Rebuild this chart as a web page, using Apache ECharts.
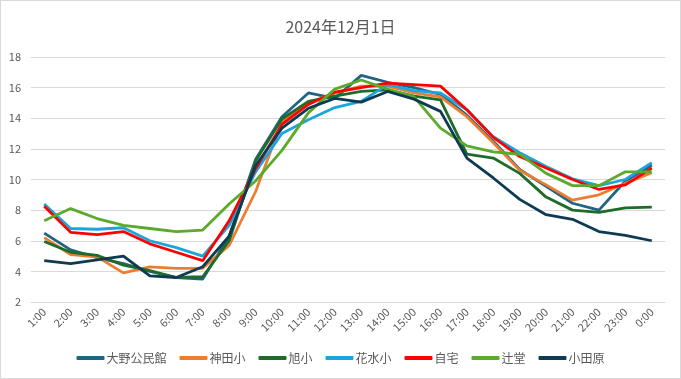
<!DOCTYPE html>
<html><head><meta charset="utf-8">
<script src="https://cdn.jsdelivr.net/npm/echarts@6/dist/echarts.min.js"></script>
<style>html,body{margin:0;padding:0;background:#fff}#c{width:679px;height:377px;border:1px solid #d9d9d9}</style>
</head><body><div id="c"></div>
<script>
const categories = ['1:00','2:00','3:00','4:00','5:00','6:00','7:00','8:00','9:00','10:00','11:00','12:00','13:00','14:00','15:00','16:00','17:00','18:00','19:00','20:00','21:00','22:00','23:00','0:00'];
const seriesNames = ['大野公民館','神田小','旭小','花水小','自宅','辻堂','小田原'];
const ohno     = [6.5,5.4,4.9,4.5,4.0,3.6,3.5,6.3,11.3,14.1,15.65,15.3,16.8,16.35,16.0,15.55,14.2,12.5,10.65,9.55,8.45,8.0,9.9,10.95];
const kanda    = [6.2,5.1,4.95,3.9,4.3,4.2,4.2,5.7,9.2,13.8,15.0,15.65,16.1,16.1,15.65,15.4,14.1,12.4,10.6,9.65,8.65,9.0,9.75,10.45];
const asahi    = [5.95,5.25,5.05,4.4,4.05,3.6,3.65,6.0,11.2,13.95,15.1,15.45,15.75,15.85,15.45,15.2,11.65,11.4,10.4,8.85,8.0,7.85,8.15,8.2];
const hanamizu = [8.4,6.8,6.75,6.85,6.0,5.55,5.0,7.0,10.5,13.0,13.9,14.7,15.1,16.2,15.8,15.65,14.55,12.8,11.75,10.85,10.05,9.6,10.0,11.1];
const jitaku   = [8.25,6.55,6.4,6.6,5.8,5.25,4.7,7.3,10.7,13.6,14.9,15.7,16.0,16.3,16.2,16.1,14.55,12.75,11.5,10.75,10.0,9.35,9.65,10.75];
const tsujido  = [7.3,8.1,7.45,7.0,6.8,6.6,6.7,8.4,9.9,11.9,14.35,15.9,16.5,15.9,15.4,13.35,12.2,11.8,11.65,10.4,9.6,9.6,10.5,10.5];
const odawara  = [4.7,4.5,4.75,5.0,3.7,3.6,4.3,6.3,10.9,13.35,14.65,15.3,15.05,15.75,15.25,14.45,11.4,10.1,8.7,7.7,7.4,6.6,6.35,6.0];
const yTicks = [2,4,6,8,10,12,14,16,18];

const colors = ['#1F6385','#ED7D31','#1E6B2A','#1AA6DD','#FF0000','#5BAA2C','#0E3B52'];
const dataList = [ohno,kanda,asahi,hanamizu,jitaku,tsujido,odawara];
const font = '"Noto Sans CJK JP","Noto Sans",sans-serif';

const chart = echarts.init(document.getElementById('c'), null, {renderer:'canvas'});
chart.setOption({
  animation:false,
  color: colors,
  title:{text:'2024年12月1日',left:'center',top:13,textStyle:{fontFamily:font,fontSize:16,fontWeight:'normal',color:'#595959'}},
  grid:{left:30,right:15,top:56,bottom:76,containLabel:false},
  legend:{
    bottom:9,left:'center',itemGap:13,itemWidth:28,itemHeight:4,icon:'roundRect',
    textStyle:{fontFamily:font,fontSize:12,color:'#595959',padding:[0,0,0,-3]},
    data:seriesNames
  },
  xAxis:{type:'category',data:categories,boundaryGap:true,
    axisLine:{show:false},axisTick:{show:false},
    axisLabel:{rotate:45,interval:0,fontFamily:font,fontSize:11,color:'#595959',margin:8}},
  yAxis:{type:'value',min:yTicks[0],max:yTicks[yTicks.length-1],interval:2,
    axisLine:{show:false},axisTick:{show:false},
    axisLabel:{fontFamily:font,fontSize:11,color:'#595959',margin:10},
    splitLine:{lineStyle:{color:'#d9d9d9',width:1}}},
  series: seriesNames.map((n,i)=>({
    name:n,type:'line',data:dataList[i],showSymbol:false,symbol:'none',
    lineStyle:{width:2.8,color:colors[i]},itemStyle:{color:colors[i]}
  }))
});
</script></body></html>
